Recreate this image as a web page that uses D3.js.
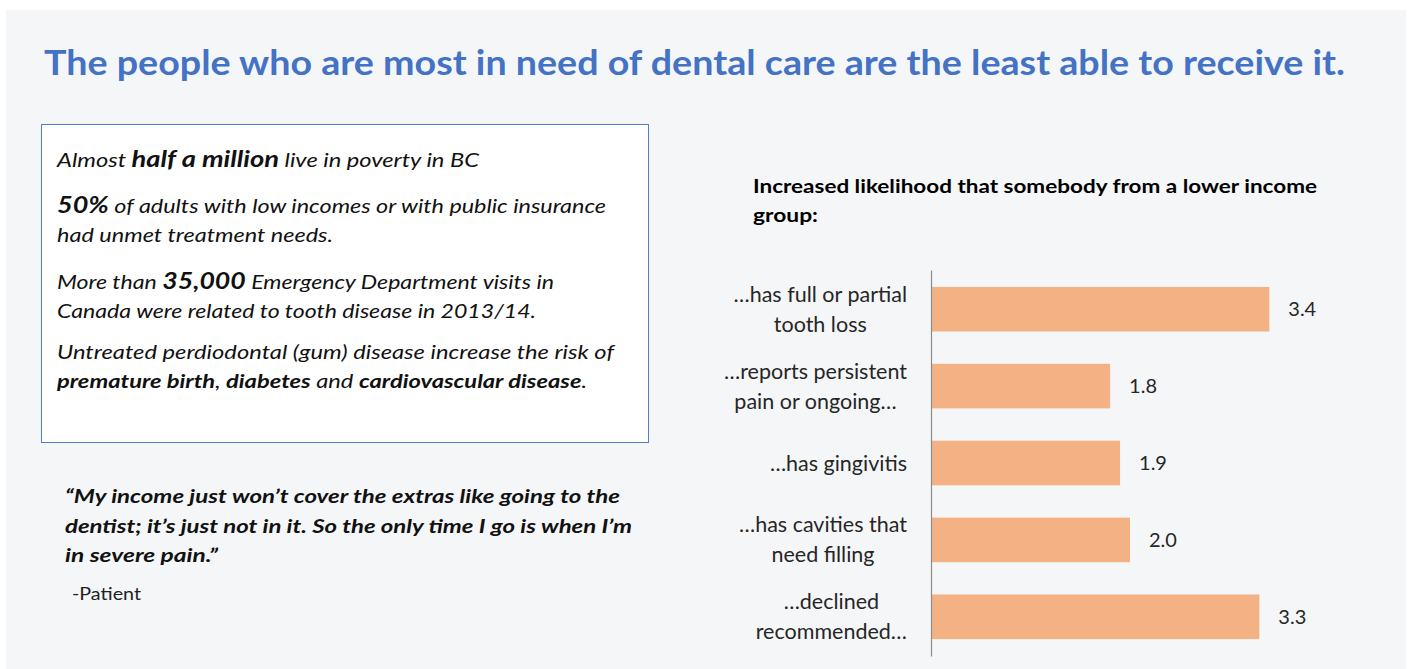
<!DOCTYPE html>
<html>
<head>
<meta charset="utf-8">
<script src="https://cdn.jsdelivr.net/npm/d3@7"></script>
<style>
  body { margin: 0; background: #fff; }
  text { font-family: Lato, "Open Sans", sans-serif; }
</style>
</head>
<body>
<div id="chart"></div>
<script>
// chart data
const categories = [
    "…has full or partial\ntooth loss",
    "…reports persistent\npain or ongoing…",
    "…has gingivitis",
    "…has cavities that\nneed filling",
    "…declined\nrecommended…"
];
const values = [3.4, 1.8, 1.9, 2.0, 3.3];

const pageTitle = "The people who are most in need of dental care are the least able to receive it.";
const chartTitle = ["Increased likelihood that somebody from a lower income", "group:"];

// fact box lines: [text, bold?, big?]
const factLines = [
    [["Almost ", 0, 0], ["half a million", 1, 1], [" live in poverty in BC", 0, 0]],
    [["50%", 1, 1], [" of adults with low incomes or with public insurance", 0, 0]],
    [["had unmet treatment needs.", 0, 0]],
    [["More than ", 0, 0], ["35,000", 1, 1], [" Emergency Department visits in", 0, 0]],
    [["Canada were related to tooth disease in 2013/14.", 0, 0]],
    [["Untreated perdiodontal (gum) disease increase the risk of", 0, 0]],
    [["premature birth", 1, 0], [", ", 0, 0], ["diabetes", 1, 0], [" and ", 0, 0], ["cardiovascular disease", 1, 0], [".", 0, 0]]
];
const factBaselines = [167, 213, 242, 289, 318, 359, 388];
const factWidths = [422, 549, 276, 497, 479, 557, 530];

const quoteLines = [
    "“My income just won’t cover the extras like going to the",
    "dentist; it’s just not in it. So the only time I go is when I’m",
    "in severe pain.”"
];
const quoteWidths = [555, 567, 153];
const quoteSource = "-Patient";

const width = 1409, height = 669;

const svg = d3.select('#chart')
    .append('svg')
    .attr('width', width)
    .attr('height', height);

svg.append('rect')
    .attr('x', 6).attr('y', 10)
    .attr('width', 1400).attr('height', 659)
    .attr('fill', '#f5f6f8');

svg.append('text')
    .attr('x', 44).attr('y', 75)
    .attr('fill', '#4472c4')
    .attr('font-size', 34)
    .attr('font-weight', 'bold')
    .attr('textLength', 1301)
    .attr('lengthAdjust', 'spacingAndGlyphs')
    .text(pageTitle);

// fact box
svg.append('rect')
    .attr('x', 41.5).attr('y', 124.5)
    .attr('width', 607).attr('height', 318)
    .attr('fill', '#fff')
    .attr('stroke', '#4f7ed0')
    .attr('stroke-width', 1);

factLines.forEach((line, i) => {
    const t = svg.append('text')
        .attr('x', 57).attr('y', factBaselines[i])
        .attr('fill', '#111')
        .attr('font-size', 19.5)
        .attr('font-style', 'italic')
        .attr('textLength', factWidths[i])
        .attr('lengthAdjust', 'spacingAndGlyphs');
    line.forEach(seg => {
        t.append('tspan')
            .attr('font-weight', seg[1] ? 'bold' : 'normal')
            .attr('font-size', seg[2] ? 22.5 : 19.5)
            .text(seg[0]);
    });
});

// quote
svg.selectAll('.quote')
    .data(quoteLines)
    .enter()
        .append('text')
        .attr('class', 'quote')
        .attr('x', 65)
        .attr('y', (d, i) => 503 + i * 29.5)
        .attr('fill', '#111')
        .attr('font-size', 19.5)
        .attr('font-weight', 'bold')
        .attr('font-style', 'italic')
        .attr('textLength', (d, i) => quoteWidths[i])
        .attr('lengthAdjust', 'spacingAndGlyphs')
        .text(d => d);

svg.append('text')
    .attr('x', 72).attr('y', 600)
    .attr('fill', '#222')
    .attr('font-size', 17)
    .attr('textLength', 69)
    .attr('lengthAdjust', 'spacingAndGlyphs')
    .text(quoteSource);

// bar chart
svg.selectAll('.ctitle')
    .data(chartTitle)
    .enter()
        .append('text')
        .attr('class', 'ctitle')
        .attr('x', 753)
        .attr('y', (d, i) => 193 + i * 29)
        .attr('fill', '#000')
        .attr('font-size', 18)
        .attr('font-weight', 'bold')
        .attr('textLength', (d, i) => i ? 65 : 564)
        .attr('lengthAdjust', 'spacingAndGlyphs')
        .text(d => d);

const x = d3.scaleLinear()
    .domain([0, 4])
    .range([931, 1329]);

const y = d3.scaleBand()
    .domain(categories)
    .range([270, 656])
    .paddingInner(0.42)
    .paddingOuter(0.22);

svg.selectAll('.bar')
    .data(values)
    .enter()
        .append('rect')
        .attr('class', 'bar')
        .attr('x', x(0))
        .attr('y', (d, i) => y(categories[i]))
        .attr('width', d => x(d) - x(0))
        .attr('height', y.bandwidth())
        .attr('fill', '#f4b183');

svg.selectAll('.val')
    .data(values)
    .enter()
        .append('text')
        .attr('class', 'val')
        .attr('x', d => x(d) + 19)
        .attr('y', (d, i) => y(categories[i]) + y.bandwidth() / 2)
        .attr('dy', '0.35em')
        .attr('fill', '#262626')
        .attr('font-size', 20)
        .text(d => d.toFixed(1));

const axis = svg.append('g')
    .attr('transform', `translate(${x(0)},0)`)
    .call(d3.axisLeft(y).tickSize(0).tickFormat(''));
axis.select('.domain')
    .attr('stroke', '#8c8c8c')
    .attr('stroke-width', 1.2);

// category labels: lines centered within a right-aligned block
categories.forEach(cat => {
    const lines = cat.split('\n');
    const g = svg.append('g');
    const texts = lines.map((ln, i) => g.append('text')
        .attr('y', y(cat) + y.bandwidth() / 2 + (i - (lines.length - 1) / 2) * 30)
        .attr('dy', '0.35em')
        .attr('fill', '#262626')
        .attr('font-size', 21.5)
        .attr('text-anchor', 'middle')
        .text(ln));
    const maxW = d3.max(texts, t => t.node().getComputedTextLength());
    texts.forEach(t => t.attr('x', x(0) - 24 - maxW / 2));
});
</script>
</body>
</html>
